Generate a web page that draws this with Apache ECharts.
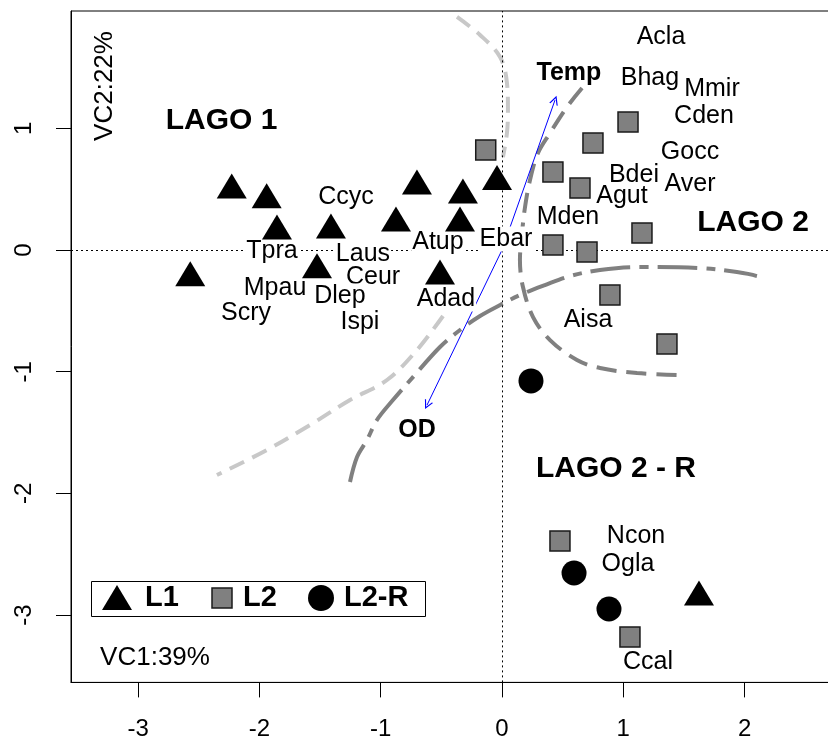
<!DOCTYPE html>
<html>
<head>
<meta charset="utf-8">
<script src="https://cdn.jsdelivr.net/npm/echarts@6/dist/echarts.min.js"></script>
<style>
html,body{margin:0;padding:0;background:#fff;}
#c{width:828px;height:742px;}
</style>
</head>
<body>
<div id="c"></div>
<script>
// ---- data ----
const xTicks = [-3, -2, -1, 0, 1, 2];
const yTicks = [-3, -2, -1, 0, 1];

// L1 (triangles)
const l1X = [-2.228, -1.940, -1.855, -1.410, -0.874, -2.570, -1.525, -0.701, -0.322, -0.346, -0.041, -0.511, 1.624];
const l1Y = [0.527, 0.445, 0.189, 0.197, 0.255, -0.195, -0.130, 0.559, 0.485, 0.255, 0.596, -0.181, -2.818];
// L2 (squares)
const l2X = [-0.134, 1.039, 0.750, 0.420, 0.643, 1.154, 0.420, 0.701, 0.890, 1.360, 0.478, 1.055];
const l2Y = [0.822, 1.052, 0.879, 0.641, 0.509, 0.140, 0.041, -0.016, -0.370, -0.772, -2.391, -3.180];
// L2-R (circles)
const l2rX = [0.239, 0.594, 0.882];
const l2rY = [-1.076, -2.654, -2.950];

// species labels
const spNames = ['Ccyc','Tpra','Laus','Ceur','Mpau','Dlep','Scry','Ispi','Acla','Bhag','Mmir','Cden','Gocc','Bdei','Aver','Agut','Mden','Atup','Ebar','Adad','Aisa','Ncon','Ogla','Ccal'];
const spX = [-1.286,-1.896,-1.146,-1.063,-1.871,-1.336,-2.110,-1.171,1.311,1.220,1.731,1.665,1.550,1.088,1.550,0.989,0.544,-0.528,0.033,-0.462,0.709,1.105,1.039,1.204];
const spY = [0.431,-0.008,-0.033,-0.222,-0.312,-0.378,-0.518,-0.592,1.750,1.413,1.323,1.101,0.805,0.616,0.542,0.443,0.271,0.066,0.090,-0.403,-0.575,-2.350,-2.580,-3.386];

// group labels
const grpNames = ['LAGO 1', 'LAGO 2', 'LAGO 2 - R'];
const grpX = [-2.312, 2.070, 0.940];
const grpY = [1.060, 0.222, -1.80];

// environmental vectors (from origin)
const vecNames = ['Temp', 'OD'];
const vecX = [0.437, -0.618];
const vecY = [1.232, -1.274];
const vecLabX = [0.552, -0.701];
const vecLabY = [1.454, -1.479];

// curves
const curveA1 = [[-0.371,1.915],[-0.181,1.767],[-0.016,1.586],[0.041,1.372],[0.049,1.150],[0.041,0.961],[0.008,0.764]];
const curveA2 = [[-0.486,-0.542],[-0.701,-0.822],[-0.948,-1.068],[-1.253,-1.233],[-1.583,-1.438],[-1.937,-1.643],[-2.350,-1.849]];
const curveB = [[-1.253,-1.906],[-1.195,-1.701],[-1.113,-1.561],[-1.031,-1.397],[-0.899,-1.233],[-0.734,-1.044],[-0.511,-0.797],[-0.346,-0.657],[-0.181,-0.542],[-0.016,-0.452],[0.148,-0.370],[0.354,-0.288],[0.561,-0.214],[0.808,-0.164],[1.138,-0.140],[1.632,-0.148],[1.937,-0.181],[2.102,-0.214]];
const curveC = [[0.660,1.331],[0.536,1.175],[0.396,0.961],[0.297,0.797],[0.231,0.575],[0.190,0.353],[0.165,0.140],[0.148,-0.082],[0.173,-0.304],[0.256,-0.551],[0.396,-0.740],[0.618,-0.904],[0.808,-0.970],[1.113,-1.011],[1.443,-1.027]];

// ---- chart ----
const zip = (xs, ys) => xs.map((x, i) => [x, ys[i]]);
const FONT = 'Liberation Sans, Arial, sans-serif';
const chart = echarts.init(document.getElementById('c'), null, {renderer: 'canvas'});

const curveSeries = (data, color, dash, z) => ({
  type: 'line', data: data, smooth: 0.35, showSymbol: false, symbol: 'none',
  silent: true, z: z,
  lineStyle: {color: color, width: 4, type: dash, cap: 'butt', opacity: 1}
});

const textSeries = (names, xs, ys, size, weight, bg, z) => ({
  type: 'scatter', silent: true, z: z, symbolSize: 1,
  itemStyle: {color: 'rgba(0,0,0,0)', opacity: 1},
  label: {show: true, position: 'inside', formatter: '{b}', color: '#000', opacity: 1,
          fontSize: size, fontWeight: weight, fontFamily: FONT,
          backgroundColor: bg, padding: bg ? [0, 1] : 0},
  emphasis: {disabled: true},
  data: names.map((n, i) => ({name: n, value: [xs[i], ys[i]]}))
});

const option = {
  animation: false,
  backgroundColor: '#fff',
  grid: {left: 71, top: 11, width: 776.7, height: 671.4, containLabel: false, outerBoundsMode: 'none',
         show: true, borderColor: '#000', borderWidth: 1, backgroundColor: 'transparent'},
  xAxis: {
    type: 'value', min: -3.553, max: 2.85,
    axisLine: {show: true, onZero: false, lineStyle: {color: '#000', width: 1}},
    axisTick: {show: true, length: 15, inside: false, customValues: xTicks, lineStyle: {color: '#000', width: 1}},
    axisLabel: {show: true, customValues: xTicks, margin: 35, color: '#000', fontSize: 24, fontFamily: FONT},
    splitLine: {show: false}
  },
  yAxis: {
    type: 'value', min: -3.553, max: 1.964,
    axisLine: {show: true, onZero: false, lineStyle: {color: '#000', width: 1}},
    axisTick: {show: true, length: 15, inside: false, customValues: yTicks, lineStyle: {color: '#000', width: 1}},
    axisLabel: {show: true, customValues: yTicks, rotate: 90, margin: 35, color: '#000', fontSize: 24, fontFamily: FONT},
    splitLine: {show: false}
  },
  series: [
    // zero reference lines
    {
      type: 'line', data: [], silent: true, z: 1,
      markLine: {
        silent: true, symbol: 'none', animation: false,
        label: {show: false},
        lineStyle: {color: '#000', width: 1, type: [2, 3], opacity: 1},
        data: [{xAxis: 0}, {yAxis: 0}]
      }
    },
    curveSeries(curveA1, '#c8c8c8', [16, 9], 2),
    curveSeries(curveA2, '#c8c8c8', [16, 9], 2),
    curveSeries(curveB, '#808080', [40, 9, 9, 9], 3),
    curveSeries(curveC, '#808080', [20, 10], 3),
    // arrows
    {
      type: 'lines', coordinateSystem: 'cartesian2d', silent: true, z: 4,
      symbol: ['none', 'path://M0,10 L5,0 L10,10 L8.6,10 L5,2.8 L1.4,10 Z'],
      symbolSize: [9, 9],
      lineStyle: {color: '#0000ff', width: 1, opacity: 1},
      data: vecX.map((x, i) => ({coords: [[0, 0], [x, vecY[i]]]}))
    },
    textSeries(spNames, spX, spY, 25, 'normal', '#fff', 5),
    textSeries(grpNames, grpX, grpY, 30, 'bold', null, 5),
    textSeries(vecNames, vecLabX, vecLabY, 25, 'bold', null, 5),
    // markers
    {
      name: 'L1', type: 'scatter', z: 6, symbol: 'triangle', symbolSize: [30, 25],
      itemStyle: {color: '#000', opacity: 1}, emphasis: {disabled: true}, data: zip(l1X, l1Y)
    },
    {
      name: 'L2', type: 'scatter', z: 6, symbol: 'rect', symbolSize: 20,
      itemStyle: {color: '#808080', borderColor: '#1a1a1a', borderWidth: 1.5, opacity: 1}, emphasis: {disabled: true}, data: zip(l2X, l2Y)
    },
    {
      name: 'L2-R', type: 'scatter', z: 6, symbol: 'circle', symbolSize: 25,
      itemStyle: {color: '#000', opacity: 1}, emphasis: {disabled: true}, data: zip(l2rX, l2rY)
    }
  ],
  graphic: [
    {type: 'text', x: 105, y: 86, rotation: Math.PI / 2, z: 10,
     style: {text: 'VC2:22%', fill: '#000', font: '26px ' + FONT, align: 'center', verticalAlign: 'middle'}},
    {type: 'text', x: 155, y: 658, z: 10,
     style: {text: 'VC1:39%', fill: '#000', font: '26px ' + FONT, align: 'center', verticalAlign: 'middle'}},
    // legend box
    {type: 'rect', z: 10, shape: {x: 91.5, y: 581.5, width: 334, height: 35},
     style: {fill: '#fff', stroke: '#000', lineWidth: 1}},
    {type: 'polygon', z: 11, shape: {points: [[102, 610], [117, 585], [132, 610]]}, style: {fill: '#000'}},
    {type: 'text', x: 145, y: 598, z: 11,
     style: {text: 'L1', fill: '#000', font: 'bold 29px ' + FONT, align: 'left', verticalAlign: 'middle'}},
    {type: 'rect', z: 11, shape: {x: 212, y: 588, width: 20, height: 20},
     style: {fill: '#808080', stroke: '#1a1a1a', lineWidth: 1.5}},
    {type: 'text', x: 243, y: 598, z: 11,
     style: {text: 'L2', fill: '#000', font: 'bold 29px ' + FONT, align: 'left', verticalAlign: 'middle'}},
    {type: 'circle', z: 11, shape: {cx: 321, cy: 598, r: 13}, style: {fill: '#000'}},
    {type: 'text', x: 344, y: 598, z: 11,
     style: {text: 'L2-R', fill: '#000', font: 'bold 29px ' + FONT, align: 'left', verticalAlign: 'middle'}}
  ]
};
chart.setOption(option);
</script>
</body>
</html>
